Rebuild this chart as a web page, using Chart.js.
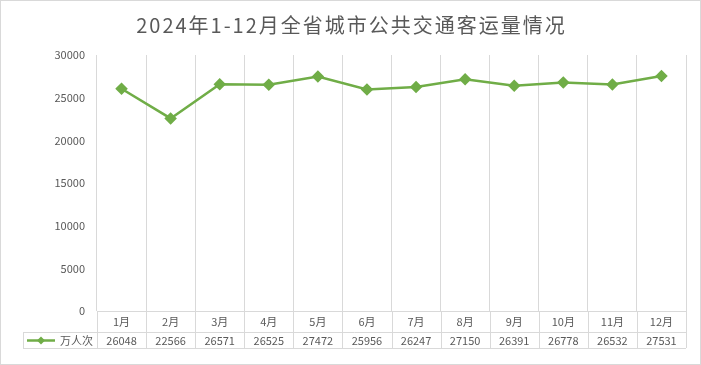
<!DOCTYPE html>
<html>
<head>
<meta charset="utf-8">
<script src="https://cdn.jsdelivr.net/npm/chart.js@4"></script>
<style>
  html, body { margin: 0; padding: 0; background: #fff; }
  canvas { display: block; }
</style>
</head>
<body>
<canvas id="chartCanva" width="701" height="365"></canvas>
<script>
// data
var chartTitle = '2024年1-12月全省城市公共交通客运量情况';
var months = ['1月','2月','3月','4月','5月','6月','7月','8月','9月','10月','11月','12月'];
var seriesName = '万人次';
var passengers = [26048, 22566, 26571, 26525, 27472, 25956, 26247, 27150, 26391, 26778, 26532, 27531];
var yTicks = [0, 5000, 10000, 15000, 20000, 25000, 30000];

var lineColor = '#70ad47';
var gridColor = '#d9d9d9';
var textColor = '#595959';
var fontFamily = '"Microsoft YaHei", "Noto Sans CJK SC", sans-serif';

// draws the title, the data table under the x axis and the outer frame
const tablePlugin = {
    id: 'dataTable',
    afterDraw: function(chart) {
        const ctx = chart.ctx;
        const x = chart.scales.x;
        const area = chart.chartArea;
        const rowLabel = area.bottom + 21;
        const rowEnd = area.bottom + 37;
        const leftCol = 23;
        const half = (x.getPixelForValue(1) - x.getPixelForValue(0)) / 2;

        ctx.save();
        // title
        ctx.fillStyle = textColor;
        ctx.font = '20px ' + fontFamily;
        ctx.textAlign = 'center';
        ctx.textBaseline = 'middle';
        ctx.letterSpacing = '2px';
        ctx.fillText(chartTitle, chart.width / 2 + 1, 25);
        ctx.letterSpacing = '0px';

        // table lines
        ctx.strokeStyle = gridColor;
        ctx.lineWidth = 1;
        ctx.beginPath();
        for (let i = 0; i <= months.length; i++) {
            const px = Math.round(x.getPixelForValue(0) - half + i * half * 2) + 0.5;
            ctx.moveTo(px, area.bottom);
            ctx.lineTo(px, rowEnd);
        }
        ctx.moveTo(leftCol + 0.5, rowLabel);
        ctx.lineTo(leftCol + 0.5, rowEnd);
        ctx.moveTo(leftCol, rowLabel + 0.5);
        ctx.lineTo(area.right, rowLabel + 0.5);
        ctx.moveTo(leftCol, rowEnd + 0.5);
        ctx.lineTo(area.right, rowEnd + 0.5);
        ctx.stroke();

        // table texts
        ctx.font = '11px ' + fontFamily;
        ctx.fillStyle = textColor;
        for (let i = 0; i < months.length; i++) {
            const cx = x.getPixelForValue(i);
            ctx.fillText(months[i], cx, area.bottom + 11);
            ctx.fillText(String(passengers[i]), cx, rowLabel + 8.5);
        }

        // legend key in the left column
        const ly = rowLabel + 8.5;
        ctx.strokeStyle = lineColor;
        ctx.lineWidth = 2.5;
        ctx.beginPath();
        ctx.moveTo(27, ly);
        ctx.lineTo(55, ly);
        ctx.stroke();
        ctx.fillStyle = lineColor;
        ctx.beginPath();
        ctx.moveTo(41, ly - 4);
        ctx.lineTo(45, ly);
        ctx.lineTo(41, ly + 4);
        ctx.lineTo(37, ly);
        ctx.closePath();
        ctx.fill();
        ctx.fillStyle = textColor;
        ctx.textAlign = 'left';
        ctx.fillText(seriesName, 60, ly);

        // outer frame
        ctx.strokeStyle = gridColor;
        ctx.lineWidth = 1;
        ctx.strokeRect(0.5, 0.5, chart.width - 1, chart.height - 1);
        ctx.restore();
    }
};

const data = {
    labels: months,
    datasets: [{
        label: seriesName,
        data: passengers,
        borderColor: lineColor,
        backgroundColor: lineColor,
        borderWidth: 2.5,
        pointStyle: 'rectRot',
        pointRadius: 4.5,
        pointHoverRadius: 4.5,
        tension: 0
    }]
};

const config = {
    type: 'line',
    data: data,
    options: {
        responsive: false,
        devicePixelRatio: 1,
        animation: false,
        layout: {
            padding: { top: 55, left: 0, right: 15, bottom: 17 }
        },
        plugins: {
            legend: { display: false },
            title: { display: false },
            tooltip: { enabled: false }
        },
        scales: {
            x: {
                offset: true,
                grid: {
                    offset: true,
                    color: gridColor,
                    drawTicks: false
                },
                border: { display: true, color: gridColor },
                ticks: { display: false },
                afterFit: function(scale) { scale.height = 37; }
            },
            y: {
                min: 0,
                max: 30000,
                afterBuildTicks: function(scale) {
                    scale.ticks = yTicks.map(function(v) { return { value: v }; });
                },
                grid: { display: false },
                border: { display: false },
                ticks: {
                    color: textColor,
                    padding: 4,
                    font: { size: 11, family: fontFamily },
                    callback: function(value) { return String(value); }
                },
                afterFit: function(scale) { scale.width = 97; }
            }
        }
    },
    plugins: [tablePlugin]
};

const myChart = new Chart(document.getElementById('chartCanva'), config);
</script>
</body>
</html>
